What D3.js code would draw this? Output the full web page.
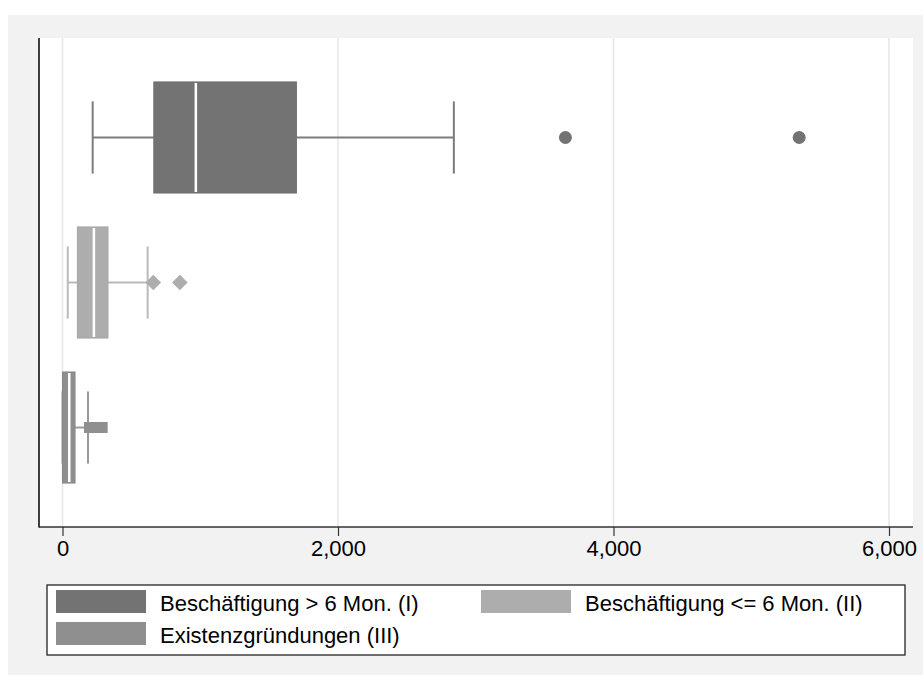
<!DOCTYPE html>
<html><head><meta charset="utf-8">
<script src="https://cdn.jsdelivr.net/npm/d3@7"></script>
<style>body{margin:0;background:#fff;}svg{display:block;font-family:"Liberation Sans",Arial,Helvetica,sans-serif;}</style>
</head><body>
<svg id="c" width="923" height="677"></svg>
<script>
// ---- data ----
const categories = ["Beschäftigung > 6 Mon. (I)", "Beschäftigung <= 6 Mon. (II)", "Existenzgründungen (III)"];
const whiskerLow  = [219, 38, 0];
const q1          = [663, 108, 0];
const median      = [968, 228, 49];
const q3          = [1698, 330, 91];
const whiskerHigh = [2841, 618, 185];
const outliers    = [[3651, 5348], [659, 852], [196, 205, 215, 230, 250, 270, 288]];
const markerShapes = ["circle", "diamond", "square"];
const colors = ["#737373", "#adadad", "#8f8f8f"];
const xTicks = [0, 2000, 4000, 6000];

const svg = d3.select("#c");
// background
svg.append("rect").attr("x", 8).attr("y", 15).attr("width", 915).attr("height", 660).attr("fill", "#f2f2f2");

const L = 39, R = 913, T = 38, B = 527;
svg.append("rect").attr("x", L).attr("y", T).attr("width", R - L).attr("height", B - T).attr("fill", "#fff");

const x = d3.scaleLinear().domain([0, 6000]).range([62.5, 889]);
const y = d3.scaleBand().domain(categories).range([T, B]).paddingInner(0.234).paddingOuter(0.303);

// grid
svg.append("g").selectAll("line").data(xTicks).join("line")
  .attr("x1", d => x(d)).attr("x2", d => x(d)).attr("y1", T).attr("y2", B)
  .attr("stroke", "#e6e6e6").attr("stroke-width", 1.5);

// boxes
const bw = y.bandwidth();
const capLen = bw * 0.65;
categories.forEach((c, i) => {
  const g = svg.append("g");
  const cy = y(c) + bw / 2;
  const col = colors[i];
  const wcol = d3.color(col).brighter(0.2);
  // whiskers
  g.append("line").attr("x1", x(whiskerLow[i])).attr("x2", x(q1[i])).attr("y1", cy).attr("y2", cy).attr("stroke", wcol).attr("stroke-width", 2);
  g.append("line").attr("x1", x(q3[i])).attr("x2", x(whiskerHigh[i])).attr("y1", cy).attr("y2", cy).attr("stroke", wcol).attr("stroke-width", 2);
  [whiskerLow[i], whiskerHigh[i]].forEach(v => {
    g.append("line").attr("x1", x(v)).attr("x2", x(v)).attr("y1", cy - capLen / 2).attr("y2", cy + capLen / 2).attr("stroke", wcol).attr("stroke-width", 2);
  });
  // box
  g.append("rect").attr("x", x(q1[i])).attr("y", y(c)).attr("width", x(q3[i]) - x(q1[i])).attr("height", bw)
    .attr("fill", col).attr("stroke", d3.color(col).darker(0.15)).attr("stroke-width", 1);
  g.append("line").attr("x1", x(median[i])).attr("x2", x(median[i])).attr("y1", y(c) + 1).attr("y2", y(c) + bw - 1)
    .attr("stroke", "#fff").attr("stroke-width", 2.5);
  // outliers
  const shape = markerShapes[i];
  outliers[i].forEach(v => {
    if (shape === "circle") {
      g.append("circle").attr("cx", x(v)).attr("cy", cy).attr("r", 6.5).attr("fill", col);
    } else if (shape === "diamond") {
      g.append("path").attr("d", d3.symbol(d3.symbolSquare, 121)()).attr("transform", `translate(${x(v)},${cy}) rotate(45)`).attr("fill", col);
    } else {
      g.append("path").attr("d", d3.symbol(d3.symbolSquare, 121)()).attr("transform", `translate(${x(v)},${cy})`).attr("fill", col);
    }
  });
});

// axes
svg.append("line").attr("x1", L).attr("x2", L).attr("y1", T).attr("y2", B + 0.5).attr("stroke", "#000").attr("stroke-width", 1.5);
const ax = svg.append("g").attr("transform", `translate(0,${B})`)
  .call(d3.axisBottom(x).tickValues(xTicks).tickFormat(d3.format(",")).tickSize(9).tickSizeOuter(0));
ax.select(".domain").remove();
svg.append("line").attr("x1", L).attr("x2", R).attr("y1", B).attr("y2", B).attr("stroke", "#333").attr("stroke-width", 1.5);
ax.selectAll(".tick line").attr("stroke", "#333").attr("stroke-width", 1.2);
ax.selectAll(".tick text").attr("font-size", 22).attr("fill", "#000").attr("y", 13).attr("dy", "0.71em").attr("font-family", "Liberation Sans, Arial, sans-serif");

// legend
const lg = svg.append("g");
lg.append("rect").attr("x", 47).attr("y", 585).attr("width", 858).attr("height", 70).attr("fill", "#fff").attr("stroke", "#404040").attr("stroke-width", 1.5);
const legPos = [[56, 590], [481, 590], [56, 622]];
categories.forEach((c, i) => {
  const [lx, ly] = legPos[i];
  lg.append("rect").attr("x", lx).attr("y", ly).attr("width", 90).attr("height", 23).attr("fill", colors[i]);
  lg.append("text").attr("x", lx + 104).attr("y", ly + 21).attr("font-size", 22).attr("fill", "#000").text(c);
});
</script>
</body></html>
